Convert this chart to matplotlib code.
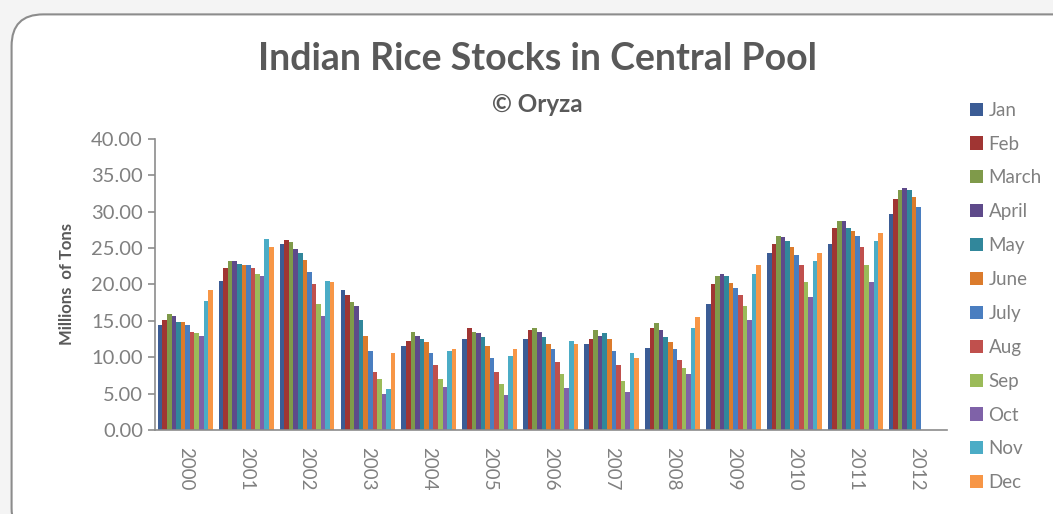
import matplotlib.pyplot as plt
import numpy as np
from matplotlib.patches import FancyBboxPatch

years = ["2000", "2001", "2002", "2003", "2004", "2005", "2006",
         "2007", "2008", "2009", "2010", "2011", "2012"]
months = ["Jan", "Feb", "March", "April", "May", "June",
          "July", "Aug", "Sep", "Oct", "Nov", "Dec"]

# stocks per year, Jan..Dec (millions of tons); 2012 only has Jan-Jul
stocks_2000 = [14.4, 15.1, 15.9, 15.7, 14.9, 14.9, 14.4, 13.5, 13.3, 13.0, 17.8, 19.3]
stocks_2001 = [20.5, 22.2, 23.2, 23.2, 22.8, 22.7, 22.7, 22.2, 21.5, 21.2, 26.3, 25.1]
stocks_2002 = [25.6, 26.1, 25.8, 24.9, 24.3, 23.4, 21.7, 20.0, 17.3, 15.7, 20.5, 20.3]
stocks_2003 = [19.3, 18.6, 17.6, 17.1, 15.1, 13.0, 10.9, 8.0, 7.0, 5.0, 5.6, 10.6]
stocks_2004 = [11.6, 12.3, 13.5, 13.0, 12.5, 12.1, 10.6, 8.9, 7.0, 6.0, 10.9, 11.1]
stocks_2005 = [12.5, 14.0, 13.5, 13.3, 12.8, 11.6, 9.9, 8.0, 6.3, 4.8, 10.2, 11.1]
stocks_2006 = [12.5, 13.8, 14.0, 13.5, 12.8, 11.8, 11.1, 9.4, 7.7, 5.8, 12.3, 11.8]
stocks_2007 = [11.8, 12.5, 13.8, 13.0, 13.3, 12.5, 10.9, 8.9, 6.7, 5.3, 10.6, 9.9]
stocks_2008 = [11.3, 14.0, 14.7, 13.8, 12.8, 12.1, 11.1, 9.6, 8.5, 7.7, 14.0, 15.5]
stocks_2009 = [17.3, 20.0, 21.2, 21.5, 21.2, 20.2, 19.5, 18.6, 17.1, 15.1, 21.5, 22.7]
stocks_2010 = [24.3, 25.6, 26.7, 26.5, 26.0, 25.1, 24.1, 22.7, 20.3, 18.3, 23.2, 24.3]
stocks_2011 = [25.6, 27.7, 28.7, 28.7, 27.7, 27.4, 26.7, 25.1, 22.7, 20.3, 26.0, 27.0]
stocks_2012 = [29.7, 31.8, 33.0, 33.3, 33.0, 32.0, 30.6, None, None, None, None, None]

colors = ["#3B5C95", "#A03533", "#7F9A4A", "#5E4A8A", "#31879B", "#DB7B2C",
          "#4A7EC0", "#C0504D", "#9BBB59", "#7F62A8", "#4BACC6", "#F79646"]

table = np.array([stocks_2000, stocks_2001, stocks_2002, stocks_2003, stocks_2004,
                  stocks_2005, stocks_2006, stocks_2007, stocks_2008, stocks_2009,
                  stocks_2010, stocks_2011, stocks_2012], dtype=float)

plt.rcParams["font.family"] = ["Lato", "DejaVu Sans"]
grey = "#808080"

fig = plt.figure(figsize=(10.53, 5.14), dpi=100)
fig.patch.set_facecolor("#F4F4F4")
frame = FancyBboxPatch((0.011, -0.05), 1.1, 1.022, transform=fig.transFigure,
                       boxstyle="round,pad=0,rounding_size=0.03",
                       facecolor="white", edgecolor="#8C8C8C", linewidth=1.5,
                       mutation_aspect=2.05, zorder=-10)
fig.patches.append(frame)

ax = fig.add_axes([0.147, 0.163, 0.752, 0.567])
ax.set_facecolor("none")

x = np.arange(len(years))
bar_w = 0.075
for i, month in enumerate(months):
    offset = (i - 5.5) * bar_w
    ax.bar(x + offset, table[:, i], width=bar_w, color=colors[i], label=month,
           linewidth=0)

ax.set_xlim(-0.5, len(years) - 0.5)
ax.set_ylim(0, 40)
ax.set_yticks(np.arange(0, 41, 5))
ax.set_yticklabels([f"{v:.2f}" for v in np.arange(0, 41, 5)])
ax.set_xticks(x)
ax.set_xticklabels(years, rotation=270)

for side in ["top", "right"]:
    ax.spines[side].set_visible(False)
for side in ["left", "bottom"]:
    ax.spines[side].set_color("#8C8C8C")
    ax.spines[side].set_linewidth(1.2)
ax.tick_params(axis="y", colors="#8C8C8C", labelcolor=grey, labelsize=14.5,
               length=5, width=1.2)
ax.tick_params(axis="x", length=0, labelcolor=grey, labelsize=13.5, pad=12)

ax.set_ylabel("Millions  of Tons", fontsize=12, fontweight="bold",
              color="#595959", labelpad=12)

fig.text(0.51, 0.885, "Indian Rice Stocks in Central Pool", ha="center",
         va="center", fontsize=27, fontweight="bold", color="#595959")
fig.text(0.51, 0.797, "© Oryza", ha="center", va="center", fontsize=17.5,
         fontweight="bold", color="#595959")

ax.legend(loc="upper left", bbox_to_anchor=(1.008, 1.185), frameon=False,
          fontsize=13.5, labelcolor=grey, handlelength=0.7, handleheight=0.7,
          handletextpad=0.3, labelspacing=0.9)

plt.savefig("out.png", dpi=100, facecolor=fig.get_facecolor())
plt.close()
